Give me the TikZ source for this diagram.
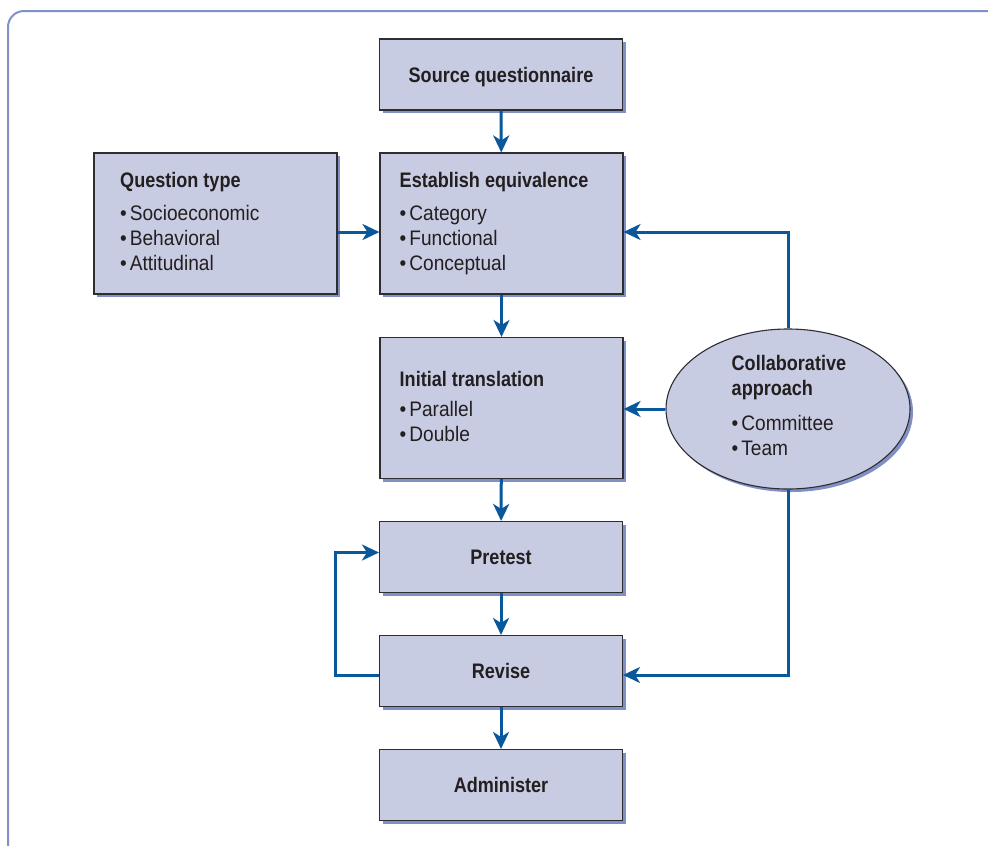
\documentclass[tikz,border=0pt]{standalone}
\usepackage{fontspec}
\setmainfont{Liberation Sans}[FakeStretch=0.91, BoldFont={Liberation Sans Bold}, BoldFeatures={FakeStretch=0.86}]
\usetikzlibrary{arrows.meta,shadows,shapes.geometric}
\definecolor{boxfill}{RGB}{200,204,226}
\definecolor{shadowc}{RGB}{128,143,196}
\definecolor{framec}{RGB}{128,144,200}
\definecolor{arrowc}{RGB}{10,88,156}
\definecolor{borderc}{RGB}{45,45,50}
\definecolor{textc}{RGB}{35,31,32}
\newcommand{\bul}{\textbullet\hspace{3pt}}
\begin{document}
\begin{tikzpicture}[x=1pt,y=-1pt,
  base/.style={draw=borderc, line width=1.1pt, fill=boxfill,
    drop shadow={shadow xshift=3pt, shadow yshift=-3pt, fill=shadowc, opacity=1}},
  stepbox/.style={base, rectangle, minimum width=243pt, minimum height=71pt, inner sep=0pt,
    font=\fontsize{21}{25}\selectfont\bfseries, text depth=0pt, text=textc},
  bigbox/.style={base, rectangle, minimum width=243pt, minimum height=141pt, inner sep=0pt},
  ell/.style={base, ellipse, minimum width=244pt, minimum height=160pt, inner sep=0pt},
  txt/.style={anchor=north west, inner sep=0pt, align=left, font=\fontsize{21}{25}\selectfont, text=textc},
  arr/.style={draw=arrowc, line width=3pt, -{Stealth[length=17pt,width=16pt,inset=5pt]}}
]
\useasboundingbox (0,0) rectangle (988,846);
\begin{scope}
  \clip (0,0) rectangle (988,846);
  \draw[framec, line width=2pt, rounded corners=16pt] (8,11) rectangle (1010,866);
\end{scope}

% boxes
\node[stepbox] (src) at (501,74.5) {Source questionnaire};
\node[bigbox] (qt) at (215.5,223.5) {};
\node[bigbox] (eq) at (501.5,223.5) {};
\node[bigbox] (init) at (501.5,408) {};
\node[ell] (collab) at (788,409) {};
\node[stepbox] (pre) at (501,557) {Pretest};
\node[stepbox] (rev) at (501,671) {Revise};
\node[stepbox] (adm) at (501,785) {Administer};

% texts
\node[txt] (qttxt) at (120,172) {\textbf{Question type}\\[8pt]\bul Socioeconomic\\\bul Behavioral\\\bul Attitudinal};
\node[txt] (eqtxt) at (399.5,172) {\textbf{Establish equivalence}\\[8pt]\bul Category\\\bul Functional\\\bul Conceptual};
\node[txt] (inittxt) at (399.5,371.5) {\textbf{Initial translation}\\[5pt]\bul Parallel\\\bul Double};
\node[txt] (collabtxt) at (731.5,355) {\textbf{Collaborative}\\\textbf{approach}\\[10pt]\bul Committee\\\bul Team};

% connectors
\draw[arr] (src) -- (eq);
\draw[arr] ([yshift=-8.5pt]qt.east) -- ([yshift=-8.5pt]eq.west);
\draw[arr] (eq) -- (init);
\draw[arr] (init) -- (pre);
\draw[arr] (pre) -- (rev);
\draw[arr] (rev) -- (adm);
\draw[arr] (collab.north) |- ([yshift=-8.5pt]eq.east);
\draw[arr] (collab.west) -- (collab.west -| init.east);
\draw[arr] (collab.south) |- ([yshift=-4pt]rev.east);
\coordinate (loopx) at (335.7,0);
\coordinate (revw) at ([yshift=-4pt]rev.west);
\coordinate (prew) at ([yshift=4.5pt]pre.west);
\draw[arr] (revw) -- (loopx |- revw) -- (loopx |- prew) -- (prew);
\end{tikzpicture}
\end{document}
